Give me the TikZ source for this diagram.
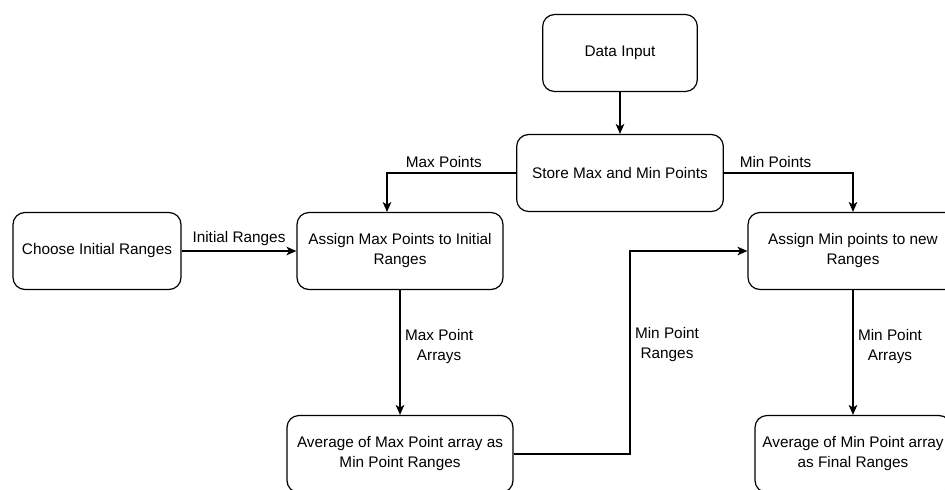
\documentclass[tikz,border=0pt]{standalone}
\usepackage{fontspec}
\setmainfont{Liberation Sans}
\usetikzlibrary{arrows.meta}

\begin{document}
\begin{tikzpicture}[x=0.75pt,y=-0.75pt,>={Stealth[length=7.5pt,width=6.5pt,inset=2pt]},
    box/.style={draw, line width=0.9pt, rounded corners=9pt, align=center,
        minimum height=57.75pt, font=\fontsize{11.5}{15}\selectfont},
    lbl/.style={align=center, font=\fontsize{11.5}{15}\selectfont},
    link/.style={line width=0.9pt}]
        \useasboundingbox (0,0) rectangle (945,489);
        \clip (0,0) rectangle (945,489);
        % boxes
        \node[box, minimum width=116pt] (input) at (620,53) {Data Input};
        \node[box, minimum width=155pt] (store) at (620,173) {Store Max and Min Points};
        \node[box, minimum width=126pt] (choose) at (97,251) {Choose Initial Ranges};
        \node[box, minimum width=154.5pt] (maxassign) at (400,251) {Assign Max Points to Initial\\Ranges};
        \node[box, minimum width=157.5pt] (minassign) at (853,251) {Assign Min points to new\\Ranges};
        \node[box, minimum width=169.5pt] (maxavg) at (400,454) {Average of Max Point array as\\Min Point Ranges};
        \node[box, minimum width=147pt] (minavg) at (853,454) {Average of Min Point array\\as Final Ranges};
        \coordinate (maxin) at (387,212);
        \coordinate (rangebend) at (630,251);
        % links
        \draw[link,->] (input) -- (store);
        \draw[link,->] (store.west) -| node[lbl, above, pos=0.28]{Max Points} (maxin);
        \draw[link,->] (store.east) -| node[lbl, above, pos=0.2]{Min Points} (minassign.north);
        \draw[link,->] (choose) -- node[lbl, above]{Initial Ranges} (maxassign);
        \draw[link,->] (maxassign) -- node[lbl, right, pos=0.45]{Max Point\\Arrays} (maxavg);
        \draw[link,->] (minassign) -- node[lbl, right, pos=0.45]{Min Point\\Arrays} (minavg);
        \draw[link,->] (maxavg.east) -| node[lbl, right, pos=0.77]{Min Point\\Ranges} (rangebend) -- (minassign.west);
    \end{tikzpicture}
\end{document}
